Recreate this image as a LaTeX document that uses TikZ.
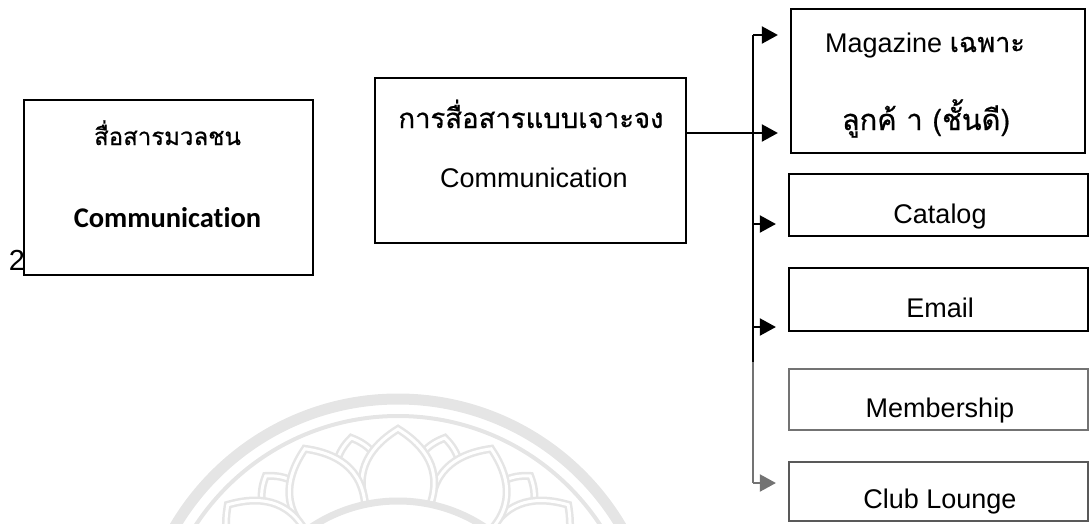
\documentclass[tikz,border=0pt]{standalone}
\usepackage{fontspec}
\setmainfont{Liberation Sans}
\newfontfamily\thaifont[Script=Thai, FakeBold=0.7]{Loma}
\newfontfamily\carlfont[Ligatures=NoCommon]{Carlito}
\usetikzlibrary{arrows.meta,calc}
\definecolor{wm}{gray}{0.90}
\definecolor{midgray}{gray}{0.45}
\tikzset{
  boxnode/.style={draw, line width=2.2pt, inner sep=0pt},
  lbl/.style={anchor=base, inner sep=0pt, font=\fontsize{27}{30}\selectfont},
  thlbl/.style={anchor=base, inner sep=0pt, font=\thaifont\fontsize{27.5}{30}\selectfont},
  conn/.style={line width=2pt},
  arr/.style={line width=2pt, -{Triangle[length=16pt,width=17pt]}, shorten >=12pt},
  wmline/.style={draw=wm, line width=2.5pt, double=white, double distance=3pt}
}
\begin{document}
\begin{tikzpicture}[x=1pt,y=-1pt]
\useasboundingbox (0,0) rectangle (1090,523);
% faint watermark seal
\begin{scope}
\clip (0,0) rectangle (1090,523);
\begin{scope}[shift={(398,658)}, yscale=-1]
  \draw[wm, line width=11pt] (0,0) circle (259);
  \draw[wm, line width=4pt] (0,0) circle (242);
  \foreach \a in {30,54,78,102,126,150}{
    \draw[wmline, fill=white] ({\a+7}:172) .. controls ({\a+8}:205) and ({\a+3}:218) .. (\a:225)
      .. controls ({\a-3}:218) and ({\a-8}:205) .. ({\a-7}:172);
  }
  \foreach \a in {18,42,66,90,114,138,162}{
    \draw[wmline, fill=white] ({\a+12}:160) .. controls ({\a+13}:200) and ({\a+5}:218) .. (\a:229)
      .. controls ({\a-5}:218) and ({\a-13}:200) .. ({\a-12}:160);
  }
  \draw[wm, line width=7pt] (0,0) circle (157);
\end{scope}
\end{scope}

% boxes
\node[boxnode, minimum width=289pt, minimum height=175pt] (mass) at (168.5,187.5) {};
\node[boxnode, minimum width=311pt, minimum height=165pt] (mid) at (530.5,160.5) {};
\node[boxnode, minimum width=294pt, minimum height=144pt] (mag) at (938,81) {};
\node[boxnode, minimum width=299pt, minimum height=62pt] (cat) at (938.5,205) {};
\node[boxnode, minimum width=299pt, minimum height=63pt] (mail) at (938.5,299.5) {};
\node[boxnode, draw=midgray, minimum width=299pt, minimum height=61pt] (mem) at (938.5,399.5) {};
\node[boxnode, draw=black!65, minimum width=299pt, minimum height=59pt] (club) at (938.5,491.5) {};

% texts
\node[lbl, font=\fontsize{29}{30}\selectfont] (two) at (17,270) {2};
\node[thlbl, font=\thaifont\fontsize{24}{30}\selectfont] (massth) at (167.5,145) {สื่อสารมวลชน};
\node[anchor=base, inner sep=0pt, font=\carlfont\bfseries\fontsize{28.5}{30}\selectfont] (massen) at (167.5,227) {Communication};
\node[thlbl] (midth) at (531,128) {การสื่อสารแบบเจาะจง};
\node[lbl] (miden) at (534,187) {Communication};
\node[lbl] (mag1) at (925,52) {Magazine {\thaifont เฉพาะ}};
\node[thlbl, font=\thaifont\fontsize{29}{30}\selectfont] (mag2) at (926,130) {ลูกค้ า (ชั้นดี)};
\node[lbl] (catt) at (940,223) {Catalog};
\node[lbl] (mailt) at (940,317) {Email};
\node[lbl] (memt) at (940,417) {Membership};
\node[lbl] (clubt) at (940,508) {Club Lounge};

% connectors
\coordinate (b1) at (753,35);
\coordinate (b2) at (753,133);
\coordinate (b3) at (753,224);
\coordinate (b4) at (753,327);
\coordinate (bg) at (753,362);
\coordinate (b5) at (753,483);
\draw[conn] (mid.east |- b2) -- (b2);
\draw[conn] (b1) -- (bg);
\draw[conn, midgray] (bg) -- (b5);
\draw[arr] (b1) -- (b1 -| mag.west);
\draw[arr] (b2) -- (b2 -| mag.west);
\draw[arr] (b3) -- (b3 -| cat.west);
\draw[arr] (b4) -- (b4 -| mail.west);
\draw[arr, midgray] (b5) -- (b5 -| club.west);
\end{tikzpicture}
\end{document}
